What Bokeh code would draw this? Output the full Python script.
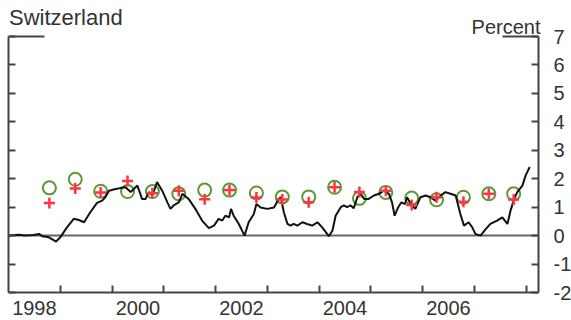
from bokeh.plotting import figure
from bokeh.models import LinearAxis, FixedTicker, ColumnDataSource
from bokeh.core.properties import value
from bokeh.embed import file_html
from bokeh.resources import INLINE

# ---- data ----
line_dates = [1998.01, 1998.20, 1998.33, 1998.48, 1998.59, 1998.65, 1998.78, 1998.92, 1999.00,
              1999.13, 1999.26, 1999.36, 1999.46, 1999.58, 1999.71, 1999.81, 1999.87, 1999.94,
              2000.07, 2000.16, 2000.26, 2000.36, 2000.49, 2000.58, 2000.65, 2000.71, 2000.78,
              2000.87, 2000.97, 2001.07, 2001.13, 2001.19, 2001.29, 2001.36, 2001.48, 2001.61,
              2001.74, 2001.87, 2001.97, 2002.06, 2002.13, 2002.19, 2002.26, 2002.30, 2002.35,
              2002.45, 2002.56, 2002.64, 2002.74, 2002.79, 2002.87, 2003.00, 2003.13, 2003.22,
              2003.26, 2003.32, 2003.39, 2003.45, 2003.51, 2003.58, 2003.68, 2003.77, 2003.87,
              2003.97, 2004.06, 2004.19, 2004.26, 2004.32, 2004.42, 2004.48, 2004.54, 2004.61,
              2004.67, 2004.74, 2004.80, 2004.87, 2004.96, 2005.06, 2005.16, 2005.25, 2005.35,
              2005.41, 2005.46, 2005.53, 2005.59, 2005.66, 2005.70, 2005.79, 2005.86, 2005.96,
              2006.06, 2006.15, 2006.25, 2006.35, 2006.44, 2006.54, 2006.64, 2006.73, 2006.80,
              2006.89, 2006.96, 2007.02, 2007.12, 2007.22, 2007.31, 2007.44, 2007.54, 2007.64,
              2007.70, 2007.77, 2007.83, 2007.93, 2007.99, 2008.07]
inflation = [0.00, 0.03, 0.00, 0.02, 0.06, -0.02, -0.06, -0.21, -0.06,
             0.29, 0.59, 0.55, 0.47, 0.82, 1.15, 1.23, 1.35, 1.58,
             1.64, 1.67, 1.70, 1.53, 1.76, 1.29, 1.29, 1.53, 1.41,
             1.88, 1.58, 1.17, 0.94, 1.06, 1.17, 1.47, 1.29, 0.94,
             0.53, 0.26, 0.35, 0.59, 0.53, 0.70, 0.64, 0.94, 0.70,
             0.41, 0.00, 0.47, 0.76, 1.11, 0.99, 0.94, 0.99, 1.29,
             1.35, 0.82, 0.41, 0.35, 0.41, 0.35, 0.47, 0.41, 0.35,
             0.47, 0.29, -0.02, 0.18, 0.70, 1.00, 1.06, 1.00, 1.06,
             0.96, 1.35, 1.47, 1.29, 1.29, 1.41, 1.47, 1.58, 1.47,
             1.17, 0.70, 1.00, 1.17, 1.11, 1.35, 1.06, 0.94, 1.35,
             1.41, 1.35, 1.23, 1.41, 1.53, 1.47, 1.41, 0.76, 0.35,
             0.47, 0.29, 0.06, 0.00, 0.23, 0.41, 0.53, 0.64, 0.41,
             0.88, 1.29, 1.53, 1.76, 2.11, 2.41]

forecast_dates = [1998.79, 1999.29, 1999.78, 2000.30, 2000.78, 2001.29, 2001.79, 2002.27,
                  2002.79, 2003.29, 2003.80, 2004.30, 2004.78, 2005.29, 2005.79, 2006.27,
                  2006.79, 2007.28, 2007.76]
forecast_circle = [1.68, 1.98, 1.56, 1.55, 1.55, 1.47, 1.60, 1.60, 1.50, 1.36,
                   1.36, 1.70, 1.31, 1.52, 1.32, 1.26, 1.35, 1.47, 1.47]
forecast_cross = [1.15, 1.66, 1.52, 1.92, 1.49, 1.58, 1.28, 1.60, 1.34, 1.27,
                  1.17, 1.70, 1.53, 1.58, 1.08, 1.35, 1.19, 1.47, 1.27]

y_ticks = [-2, -1, 0, 1, 2, 3, 4, 5, 6, 7]
y_labels = ["-2", "-1", "0", "1", "2", "3", "4", "5", "6", "7"]
year_ticks = [1999, 2000, 2001, 2002, 2003, 2004, 2005, 2006, 2007, 2008]
year_labels = ["1998", "2000", "2002", "2004", "2006"]
year_label_pos = [1998.5, 2000.5, 2002.5, 2004.5, 2006.5]

title_text = "Switzerland"
unit_text = "Percent"

# ---- figure ----
X0, X1 = 1998.0, 2008.24           # plotted period (left and right axis)
Y0, Y1 = -2, 7                     # value axis
PX_Y = 256 / 9.0                   # pixels per percentage point
PX_X = 530 / (X1 - X0)             # pixels per year
Y_TOP = Y1 + 36 / PX_Y             # frame runs up to the page top
Y_BOTTOM = Y0 - 28 / PX_Y          # ... and down to the page bottom (room for year labels)
X_RIGHT = X1 + 33 / PX_X           # ... and out to the right edge (room for value labels)
FONT = "Liberation Sans"
AX = "#444444"
TXT = "#333333"

p = figure(width=571, height=320, x_range=(X0, X_RIGHT), y_range=(Y_BOTTOM, Y_TOP),
           output_backend="svg", toolbar_location=None,
           x_axis_type=None, y_axis_type=None,
           min_border_left=8, min_border_right=0, min_border_top=0, min_border_bottom=0)
p.outline_line_color = None
p.xgrid.visible = False
p.ygrid.visible = False
p.background_fill_color = "white"
p.border_fill_color = "white"

def style_y(ax, labels):
    ax.ticker = FixedTicker(ticks=y_ticks)
    ax.bounds = (Y0, Y1)
    ax.axis_line_color = AX
    ax.axis_line_width = 2
    ax.major_tick_line_color = AX
    ax.major_tick_line_width = 2
    ax.major_tick_in = 7
    ax.major_tick_out = 0
    ax.minor_tick_line_color = None
    ax.major_label_text_font = FONT
    ax.major_label_text_font_size = "20px"
    ax.major_label_text_color = TXT
    if labels:
        ax.major_label_overrides = dict(zip(y_ticks, y_labels))
    else:
        ax.major_label_overrides = {t: "" for t in y_ticks}
        ax.major_label_standoff = 0

left = LinearAxis()
style_y(left, False)
p.add_layout(left, "left")

# right axis pinned at the end of the period; labels sit in the frame's right strip
right = LinearAxis(fixed_location=X1)
style_y(right, True)
right.major_label_standoff = 15
p.add_layout(right, "right")

# bottom axis pinned at -2; labels sit in the frame's bottom strip
bottom = LinearAxis(fixed_location=Y0)
bottom.ticker = FixedTicker(ticks=year_label_pos, minor_ticks=year_ticks)
bottom.major_label_overrides = dict(zip(year_label_pos, year_labels))
bottom.bounds = (X0, X1)
bottom.axis_line_color = AX
bottom.axis_line_width = 2
bottom.major_tick_line_color = None
bottom.major_tick_in = 0
bottom.major_tick_out = 0
bottom.minor_tick_line_color = AX
bottom.minor_tick_line_width = 2
bottom.minor_tick_in = 7
bottom.minor_tick_out = 0
bottom.major_label_standoff = 8
bottom.major_label_text_font = FONT
bottom.major_label_text_font_size = "20px"
bottom.major_label_text_color = TXT
p.add_layout(bottom, "below")

# partial top frame
gap = 36 / PX_X
p.segment(x0=[X0, X1 - gap], y0=[Y1, Y1], x1=[X0 + gap, X1], y1=[Y1, Y1],
          line_color=AX, line_width=2)

# zero line across the period
p.segment(x0=[X0], y0=[0], x1=[X1], y1=[0], line_color="#666666", line_width=2)

src_f = ColumnDataSource(dict(x=forecast_dates, c=forecast_circle, r=forecast_cross))
p.scatter("x", "c", source=src_f, marker="circle", size=13, fill_color=None,
          line_color="#5b9a32", line_width=2)
p.line(line_dates, inflation, line_color="#111111", line_width=2)
p.scatter("x", "r", source=src_f, marker="cross", size=11,
          line_color="#ff3344", line_width=2.5)

# title and unit label
p.text(x=[X0 + 0.5 / PX_X], y=[Y1 + 19 / PX_Y], text=[title_text],
       text_font=value(FONT), text_font_size="22px", text_color=TXT,
       text_align="left", text_baseline="alphabetic")
p.text(x=[X1 + 2 / PX_X], y=[Y1 + 10 / PX_Y], text=[unit_text],
       text_font=value(FONT), text_font_size="20px", text_color=TXT,
       text_align="right", text_baseline="alphabetic")

open("out.html", "w").write(file_html(p, INLINE))
